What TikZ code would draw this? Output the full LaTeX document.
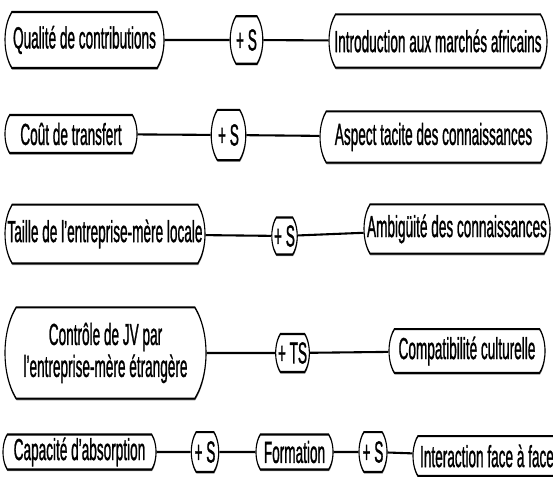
\documentclass[tikz,border=0pt]{standalone}
\usepackage{fontspec}
\setmainfont{Liberation Sans}[FakeBold=1.4, FakeStretch=0.85]
\usetikzlibrary{shapes.misc,shadows}

\begin{document}
\begin{tikzpicture}[x=1pt,
        facteur/.style={draw, fill=white, line width=1.1pt, rounded rectangle, rounded rectangle arc length=100,
            inner xsep=1pt, inner ysep=0pt, align=center, font=\fontsize{16}{16.8}\selectfont,
            drop shadow={shadow xshift=0.4pt, shadow yshift=-0.9pt, fill=black!45, opacity=1}},
        effet/.style={facteur, minimum width=26pt},
        lien/.style={line width=1.1pt}]
    \useasboundingbox (0pt,0pt) rectangle (553pt,-476pt);
    \begin{scope}[y=-0.5263pt, transform canvas={yscale=1.9}]
        \node[facteur, minimum width=161pt, minimum height=29.5pt] (qual) at (84.5,40) {Qualité de contributions};
        \node[effet, minimum height=25pt] (s1) at (246.5,40) {+ S};
        \node[facteur, minimum width=220pt, minimum height=28pt] (intro) at (438,41) {Introduction aux marchés africains};
        \draw[lien] (qual) -- (s1) -- (intro);

        \node[facteur, minimum width=134pt, minimum height=20pt] (cout) at (71,134) {Coût de transfert};
        \node[effet, minimum height=26.5pt] (s2) at (228.5,135) {+ S};
        \node[facteur, minimum width=229pt, minimum height=27pt] (tacite) at (433.5,137) {Aspect tacite des connaissances};
        \draw[lien] (cout) -- (s2) -- (tacite);

        \node[facteur, minimum width=202pt, minimum height=31pt] (taille) at (105,234) {Taille de l’entreprise-mère locale};
        \node[effet, minimum height=19.5pt] (s3) at (284.5,236) {+ S};
        \node[facteur, minimum width=188pt, minimum height=26pt] (ambig) at (457,229) {Ambigüité des connaissances};
        \draw[lien] (taille) -- (s3) -- (ambig);

        \node[facteur, minimum width=203pt, minimum height=48pt] (ctrl) at (105.5,353) {Contrôle de JV par\\l’entreprise-mère étrangère};
        \node[effet, minimum width=29pt, minimum height=20pt] (ts) at (292.5,353) {+ TS};
        \node[facteur, minimum width=158pt, minimum height=23pt] (compat) at (467,351) {Compatibilité culturelle};
        \draw[lien] (ctrl) -- (ts) -- (compat);

        \node[facteur, minimum width=155pt, minimum height=18.4pt] (capa) at (79.5,452) {Capacité d’absorption};
        \node[effet, minimum height=21pt] (s5) at (205,452) {+ S};
        \node[facteur, minimum width=79pt, minimum height=18.4pt] (form) at (294.5,452) {Formation};
        \node[effet, minimum width=30pt, minimum height=21pt] (s6) at (373,452) {+ S};
        \node[facteur, minimum width=150pt, minimum height=21pt] (inter) at (487,456) {Interaction face à face};
        \draw[lien] (capa) -- (s5) -- (form) -- (s6) -- (inter);
    \end{scope}
\end{tikzpicture}
\end{document}
